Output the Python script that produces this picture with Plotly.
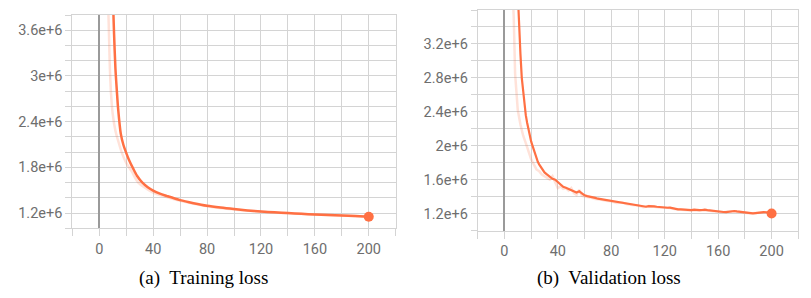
import plotly.graph_objects as go

# ---------------- data (values in units of 1e6) ----------------
train_steps = [9, 10, 11, 12, 13, 14, 16, 18, 20, 22, 25, 28, 32, 36, 40, 45, 50, 60, 70,
               80, 90, 100, 110, 120, 130, 140, 150, 160, 170, 180, 190, 200]
train_smooth = [4.6, 4.1, 3.55, 3.1, 2.82, 2.57, 2.24, 2.09, 1.99, 1.9, 1.79, 1.69, 1.6, 1.54,
                1.495, 1.455, 1.425, 1.37, 1.33, 1.296, 1.272, 1.252, 1.235, 1.221, 1.21,
                1.2, 1.19, 1.182, 1.175, 1.169, 1.16, 1.152]
train_raw_steps = [6, 7, 8, 9, 10, 12, 14, 17, 20, 24, 29, 35, 40, 50, 60, 80, 100, 120,
                   140, 160, 180, 200]
train_raw = [4.3, 3.7, 3.05, 2.7, 2.5, 2.28, 2.15, 1.98, 1.86, 1.75, 1.6, 1.52, 1.47, 1.41,
             1.36, 1.29, 1.248, 1.218, 1.197, 1.18, 1.167, 1.15]

val_steps = list(range(10, 31)) + list(range(32, 201, 2))
val_smooth = [3.8, 3.38, 3.08, 2.80, 2.63, 2.48, 2.36, 2.27, 2.19, 2.12, 2.05, 2.00, 1.95,
              1.89, 1.84, 1.81, 1.78, 1.755, 1.72, 1.70, 1.685,
              1.66, 1.635, 1.61, 1.60, 1.57, 1.535, 1.515, 1.505, 1.49, 1.48, 1.465, 1.448,
              1.462, 1.44, 1.415, 1.405, 1.40, 1.39, 1.385, 1.375, 1.37, 1.36, 1.355, 1.358,
              1.345, 1.34, 1.335, 1.33, 1.325, 1.32, 1.318, 1.31, 1.308, 1.30, 1.30, 1.295,
              1.285, 1.28, 1.288, 1.29, 1.285, 1.28, 1.275, 1.27, 1.272, 1.268, 1.27, 1.262,
              1.255, 1.25, 1.248, 1.245, 1.244, 1.24, 1.24, 1.245, 1.238, 1.24, 1.242, 1.246,
              1.24, 1.235, 1.232, 1.228, 1.224, 1.222, 1.218, 1.216, 1.222, 1.226, 1.23,
              1.225, 1.22, 1.218, 1.216, 1.21, 1.205, 1.202, 1.205, 1.21, 1.212, 1.216, 1.215,
              1.208, 1.20]
val_raw_steps = [6, 7, 8, 9, 10, 12, 14, 16, 18, 20, 22, 24, 26, 28, 30, 32, 34, 36, 38, 40,
                 42, 44, 46, 48, 50, 52, 54, 56, 58, 60, 64, 68, 72, 76, 80, 84, 88, 92, 96,
                 100, 104, 108, 112, 116, 120, 124, 128, 132, 136, 140, 144, 148, 152, 156,
                 160, 164, 168, 172, 176, 180, 184, 188, 192, 196, 200]
val_raw = [3.9, 3.5, 2.85, 2.6, 2.42, 2.25, 2.12, 2.03, 1.92, 1.84, 1.78, 1.72, 1.70, 1.66,
           1.64, 1.62, 1.60, 1.64, 1.57, 1.50, 1.52, 1.49, 1.50, 1.47, 1.50, 1.44, 1.42, 1.48,
           1.41, 1.40, 1.39, 1.37, 1.365, 1.35, 1.345, 1.325, 1.33, 1.31, 1.30, 1.295, 1.275,
           1.29, 1.28, 1.27, 1.27, 1.265, 1.25, 1.245, 1.24, 1.235, 1.24, 1.24, 1.235, 1.228,
           1.22, 1.215, 1.225, 1.228, 1.218, 1.212, 1.20, 1.205, 1.21, 1.215, 1.20]

train_ytick_vals = [1.2, 1.8, 2.4, 3.0, 3.6]
train_ytick_text = ["1.2e+6", "1.8e+6", "2.4e+6", "3e+6", "3.6e+6"]
val_ytick_vals = [1.2, 1.6, 2.0, 2.4, 2.8, 3.2]
val_ytick_text = ["1.2e+6", "1.6e+6", "2e+6", "2.4e+6", "2.8e+6", "3.2e+6"]
captions = ["(a)  Training loss", "(b)  Validation loss"]

# ---------------- style ----------------
ORANGE = "#ff7043"
FAINT = "rgba(255,112,67,0.2)"
GRID = "#d4d4d4"
TICKFONT = dict(family="Roboto", size=14.5, color="#6e6e6e")

def e6(vals):
    return [v * 1e6 for v in vals]

fig = go.Figure()

# training
fig.add_trace(go.Scatter(x=train_raw_steps, y=e6(train_raw), mode="lines",
                         line=dict(color=FAINT, width=2.5, shape="spline"),
                         xaxis="x", yaxis="y", showlegend=False, hoverinfo="skip"))
fig.add_trace(go.Scatter(x=train_steps, y=e6(train_smooth), mode="lines",
                         line=dict(color=ORANGE, width=2.5, shape="spline", smoothing=0.8),
                         xaxis="x", yaxis="y", showlegend=False))
fig.add_trace(go.Scatter(x=[train_steps[-1]], y=[train_smooth[-1] * 1e6], mode="markers",
                         marker=dict(color=ORANGE, size=10),
                         xaxis="x", yaxis="y", showlegend=False))

# validation
fig.add_trace(go.Scatter(x=val_raw_steps, y=e6(val_raw), mode="lines",
                         line=dict(color=FAINT, width=2.5),
                         xaxis="x2", yaxis="y2", showlegend=False, hoverinfo="skip"))
fig.add_trace(go.Scatter(x=val_steps, y=e6(val_smooth), mode="lines",
                         line=dict(color=ORANGE, width=2.2),
                         xaxis="x2", yaxis="y2", showlegend=False))
fig.add_trace(go.Scatter(x=[val_steps[-1]], y=[val_smooth[-1] * 1e6], mode="markers",
                         marker=dict(color=ORANGE, size=10),
                         xaxis="x2", yaxis="y2", showlegend=False))

W, H = 811, 298

def xax(domain, anchor):
    return dict(domain=domain, anchor=anchor, range=[-20, 220],
                tickmode="linear", tick0=0, dtick=40,
                ticks="outside", ticklen=7, tickcolor=GRID, tickwidth=1,
                showgrid=True, gridcolor=GRID, gridwidth=1,
                minor=dict(tick0=0, dtick=20, ticks="outside", ticklen=7, tickcolor=GRID,
                           showgrid=True, gridcolor=GRID, gridwidth=1),
                zeroline=True, zerolinecolor="#9a9a9a", zerolinewidth=2,
                showline=True, mirror=True, linecolor=GRID, linewidth=1,
                tickfont=TICKFONT, fixedrange=True)

def yax(domain, anchor, rng, tv, tt):
    minor_vals = [round(1.0 + 0.2 * i, 1) * 1e6 for i in range(0, 15)]
    return dict(domain=domain, anchor=anchor, range=[rng[0] * 1e6, rng[1] * 1e6],
                tickmode="array", tickvals=e6(tv), ticktext=tt,
                ticks="outside", ticklen=6, tickcolor=GRID, tickwidth=1,
                showgrid=True, gridcolor=GRID, gridwidth=1,
                minor=dict(tickvals=minor_vals, ticks="outside", ticklen=6, tickcolor=GRID,
                           showgrid=True, gridcolor=GRID, gridwidth=1),
                zeroline=False,
                showline=True, mirror=True, linecolor=GRID, linewidth=1,
                tickfont=TICKFONT, fixedrange=True)

fig.update_layout(
    width=W, height=H,
    margin=dict(l=0, r=0, t=0, b=0),
    paper_bgcolor="white", plot_bgcolor="white",
    xaxis=xax([72.3 / W, 395.7 / W], "y"),
    yaxis=yax([(H - 228.3) / H, (H - 15) / H], "x", [1.0, 3.8],
              train_ytick_vals, train_ytick_text),
    xaxis2=xax([477.7 / W, 798.3 / W], "y2"),
    yaxis2=yax([(H - 230.5) / H, (H - 10) / H], "x2", [1.0, 3.6],
               val_ytick_vals, val_ytick_text),
    annotations=[
        dict(text=captions[0], x=204 / W, y=(H - 278) / H, xref="paper", yref="paper",
             xanchor="center", yanchor="middle", showarrow=False,
             font=dict(family="Liberation Serif", size=19, color="black")),
        dict(text=captions[1], x=609 / W, y=(H - 278) / H, xref="paper", yref="paper",
             xanchor="center", yanchor="middle", showarrow=False,
             font=dict(family="Liberation Serif", size=19, color="black")),
    ],
)

fig.write_html("out.html",
               config={"displayModeBar": False},
               post_script="document.body.style.margin='0';document.body.style.padding='0';"
                           "document.body.style.overflow='hidden';")
